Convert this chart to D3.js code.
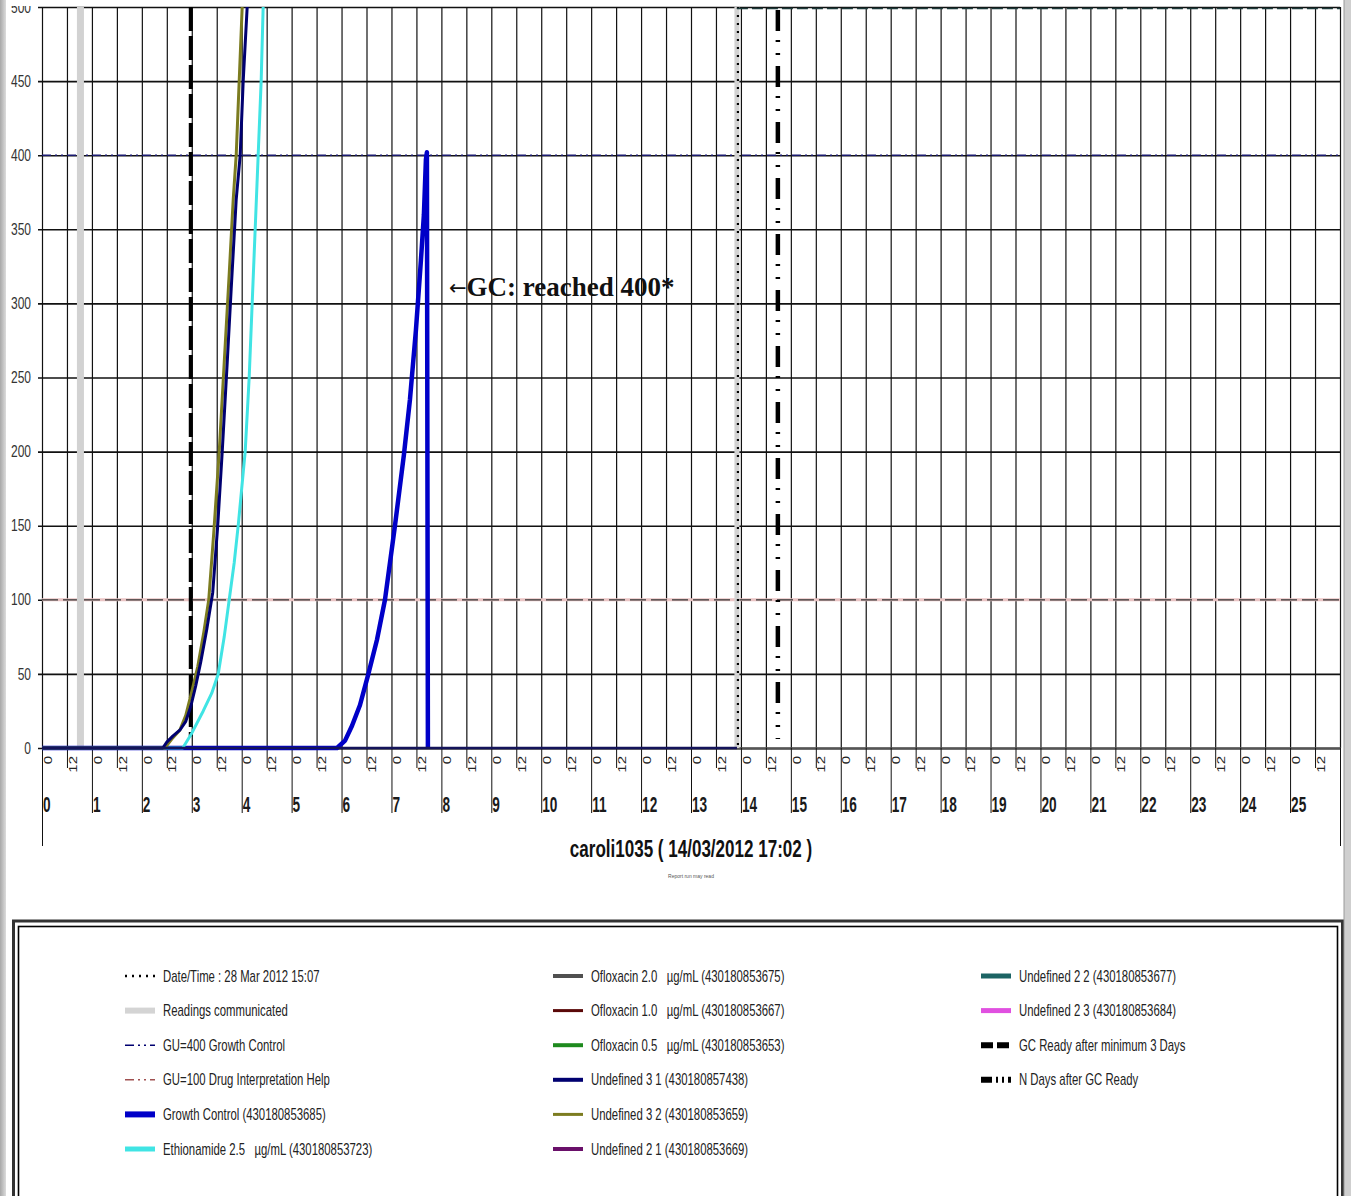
<!DOCTYPE html>
<html>
<head>
<meta charset="utf-8">
<script src="https://cdn.jsdelivr.net/npm/d3@7"></script>
<style>
  body { margin: 0; background: #fff; }
  svg { display: block; }
</style>
</head>
<body>
<svg id="chart" width="1351" height="1196"></svg>
<script>
// ---- data (days since incubation, growth units) ----
const yTicks = [0, 50, 100, 150, 200, 250, 300, 350, 400, 450, 500];
const dayLabels = ["0","1","2","3","4","5","6","7","8","9","10","11","12","13","14","15","16","17","18","19","20","21","22","23","24","25"];
const hourLabels = ["0", "12"];

const gcDays = [0, 5.91, 6.07, 6.21, 6.37, 6.53, 6.71, 6.87, 7.07, 7.25, 7.37, 7.49, 7.59, 7.65, 7.69, 7.71, 7.73];
const gcValues = [0, 0, 5, 15, 29, 49, 73, 100, 150, 198, 235, 282, 329, 360, 397, 402, 0];

const ethDays = [0, 2.82, 3.00, 3.23, 3.40, 3.53, 3.65, 3.75, 3.85, 3.93, 4.00, 4.07, 4.15, 4.21, 4.27, 4.33, 4.39, 4.43];
const ethValues = [0, 0, 10, 25, 37, 50, 75, 100, 125, 150, 175, 200, 250, 300, 350, 400, 450, 500];

const u31Days = [0, 2.42, 2.50, 2.62, 2.76, 2.88, 2.98, 3.08, 3.18, 3.30, 3.42, 3.52, 3.61, 3.71, 3.79, 3.89, 3.97, 4.03, 4.11];
const u31Values = [0, 0, 4, 8, 12, 18, 28, 42, 58, 80, 105, 150, 200, 260, 310, 370, 400, 450, 500];

const u32Days = [0, 2.46, 2.60, 2.76, 2.88, 3.00, 3.12, 3.24, 3.34, 3.44, 3.55, 3.65, 3.75, 3.83, 3.89, 3.95, 4.01];
const u32Values = [0, 0, 6, 12, 22, 38, 55, 78, 100, 145, 200, 260, 320, 370, 400, 450, 500];

const flatDays = [0, 13.92];
const flatValues = [0, 0];

const readingsDays = [0.77, 13.92];
const reportDay = 13.92;
const gcReadyDay = 2.98;
const nDaysAfterDay = 14.74;
const gu400 = 400;
const gu100 = 100;
const xMax = 26;

const title = "caroli1035 ( 14/03/2012 17:02 )";
const noteArrow = "\u2190";
const note = "GC: reached 400*";
const smallNote = "Report run may read";

const legendCols = [
  ["Date/Time : 28 Mar 2012 15:07", "Readings communicated", "GU=400 Growth Control",
   "GU=100 Drug Interpretation Help", "Growth Control (430180853685)", "Ethionamide 2.5   \u00b5g/mL (430180853723)"],
  ["Ofloxacin 2.0   \u00b5g/mL (430180853675)", "Ofloxacin 1.0   \u00b5g/mL (430180853667)", "Ofloxacin 0.5   \u00b5g/mL (430180853653)",
   "Undefined 3 1 (430180857438)", "Undefined 3 2 (430180853659)", "Undefined 2 1 (430180853669)"],
  ["Undefined 2 2 (430180853677)", "Undefined 2 3 (430180853684)", "GC Ready after minimum 3 Days", "N Days after GC Ready"]
];

// ---- styles ----
const SANS = '"Liberation Sans", Arial, sans-serif';
const SERIF = '"Liberation Serif", "Times New Roman", serif';
const swatch = [
  [{ c: "#000", w: 2.5, d: "2,5" }, { c: "#d4d4d4", w: 6 }, { c: "#000070", w: 1.5, d: "9,4,2,4,2,4" },
   { c: "#a05050", w: 1.5, d: "9,4,2,4,2,4" }, { c: "#0000c8", w: 6 }, { c: "#40e4e4", w: 5 }],
  [{ c: "#505050", w: 4 }, { c: "#5a0808", w: 3 }, { c: "#1e8a1e", w: 4 },
   { c: "#000070", w: 4 }, { c: "#7c7c20", w: 3 }, { c: "#6a106a", w: 4 }],
  [{ c: "#1c6464", w: 5 }, { c: "#e050e0", w: 5 }, { c: "#000", w: 6, d: "12,4" }, { c: "#000", w: 6, d: "11,4,2,4,2,4" }]
];

const margin = { left: 42, right: 11, top: 7, bottom: 748 };
const svg = d3.select("#chart");

const x = d3.scaleLinear().domain([0, xMax]).range([margin.left, 1351 - margin.right]);
const y = d3.scaleLinear().domain([0, 500]).range([margin.bottom, margin.top]);

const line = d3.line().x(d => x(d[0])).y(d => y(d[1]));
const zip = (a, b) => a.map((v, i) => [v, b[i]]);

const addAxes = () => {
  const halfDays = d3.range(0, xMax + 0.01, 0.5);

  // vertical grid
  svg.append("g")
    .attr("transform", `translate(0,${margin.bottom})`)
    .call(d3.axisBottom(x).tickValues(halfDays).tickSize(-(margin.bottom - margin.top)).tickFormat(""))
    .call(g => g.select(".domain").remove())
    .selectAll("line").attr("stroke", "#111").attr("stroke-width", 1.2);

  // horizontal grid + labels
  svg.append("g")
    .attr("transform", `translate(${margin.left},0)`)
    .call(d3.axisLeft(y).tickValues(yTicks).tickSize(-(x(xMax) - margin.left)).tickPadding(11))
    .call(g => g.select(".domain").remove())
    .call(g => g.selectAll("line").attr("x1", -4).attr("stroke", "#111").attr("stroke-width", 1.6))
    .call(g => g.selectAll("text")
      .attr("x", null)
      .attr("transform", "translate(-11,0) scale(0.75,1)")
      .attr("font-size", 16).attr("fill", "#333").attr("font-family", SANS));

  // lower axis: ticks and small hour labels
  const xAxis = svg.append("g")
    .attr("transform", `translate(0,${margin.bottom})`)
    .call(d3.axisBottom(x).tickValues(halfDays).tickSize(0).tickFormat(""));
  xAxis.select(".domain").attr("stroke", "#555").attr("stroke-width", 2.5);
  xAxis.selectAll(".tick line")
    .attr("stroke", "#111")
    .attr("y2", d => (d === 0 || d === xMax) ? 98 : (d % 1 === 0 ? 65 : 20));

  svg.append("g")
    .selectAll("text")
    .data(halfDays.slice(0, -1))
    .enter()
    .append("text")
    .attr("transform", d => `translate(${x(d) + 6},${margin.bottom + 8}) scale(0.7,1) rotate(-90)`)
    .attr("text-anchor", "end")
    .attr("dy", "0.35em")
    .attr("font-family", SANS)
    .attr("font-size", 15)
    .attr("fill", "#222")
    .text(d => hourLabels[d % 1 === 0 ? 0 : 1]);

  svg.append("g")
    .selectAll("text")
    .data(dayLabels)
    .enter()
    .append("text")
    .attr("transform", (d, i) => `translate(${x(i) + 1},${margin.bottom + 64}) scale(0.62,1)`)
    .attr("font-family", SANS)
    .attr("font-weight", "bold")
    .attr("font-size", 22)
    .attr("fill", "#1a1a1a")
    .text(d => d);
};

const addMarkers = () => {
  // guide lines
  svg.append("line")
    .attr("x1", x(0)).attr("x2", x(xMax)).attr("y1", y(gu100)).attr("y2", y(gu100))
    .attr("stroke", "#eac4c4").attr("stroke-width", 3);
  svg.append("line")
    .attr("x1", x(0)).attr("x2", x(xMax)).attr("y1", y(gu100)).attr("y2", y(gu100))
    .attr("stroke", "#333").attr("stroke-width", 1.3).attr("stroke-dasharray", "16,5");
  svg.append("line")
    .attr("x1", x(0)).attr("x2", x(xMax)).attr("y1", y(gu400)).attr("y2", y(gu400))
    .attr("stroke", "#1a1a70").attr("stroke-width", 1.6).attr("stroke-dasharray", "9,4,2,4,2,4");

  // readings communicated
  svg.append("g")
    .selectAll("line")
    .data(readingsDays)
    .enter()
    .append("line")
    .attr("x1", d => x(d)).attr("x2", d => x(d))
    .attr("y1", y(500)).attr("y2", y(0))
    .attr("stroke", "#d2d2d2").attr("stroke-width", d => d < 1 ? 7 : 5);

  // report date
  svg.append("line")
    .attr("x1", x(reportDay) + 1).attr("x2", x(reportDay) + 1).attr("y1", y(500)).attr("y2", y(0))
    .attr("stroke", "#000").attr("stroke-width", 2.2).attr("stroke-dasharray", "2,6");

  // top dashed edge right of the report date
  svg.append("line")
    .attr("x1", x(reportDay)).attr("x2", x(xMax)).attr("y1", y(499)).attr("y2", y(499))
    .attr("stroke", "#1c3a3a").attr("stroke-width", 1.6).attr("stroke-dasharray", "11,4");

  // GC ready and N days after GC ready
  svg.append("line")
    .attr("x1", x(gcReadyDay)).attr("x2", x(gcReadyDay)).attr("y1", y(500)).attr("y2", y(8))
    .attr("stroke", "#000").attr("stroke-width", 4).attr("stroke-dasharray", "24,5");
  svg.append("line")
    .attr("x1", x(nDaysAfterDay)).attr("x2", x(nDaysAfterDay)).attr("y1", y(498)).attr("y2", y(6))
    .attr("stroke", "#000").attr("stroke-width", 4.5).attr("stroke-dasharray", "21,9,2,11,2,11");
};

const addLines = () => {
  const series = [
    { data: zip(gcDays, gcValues), c: "#0000c8", w: 4.5 },
    { data: zip(flatDays, flatValues), c: "#505050", w: 2 },
    { data: zip(flatDays, flatValues), c: "#5a0808", w: 2 },
    { data: zip(flatDays, flatValues), c: "#1e8a1e", w: 2 },
    { data: zip(flatDays, flatValues), c: "#1c6464", w: 2 },
    { data: zip(flatDays, flatValues), c: "#e050e0", w: 2 },
    { data: zip(flatDays, flatValues), c: "#6a106a", w: 2 },
    { data: zip(ethDays, ethValues), c: "#40e4e4", w: 3 },
    { data: zip(u32Days, u32Values), c: "#7c7c20", w: 3 },
    { data: zip(u31Days, u31Values), c: "#000070", w: 3 },
    { data: zip(flatDays, flatValues), c: "#14145a", w: 2.5 }
  ];
  svg.append("clipPath").attr("id", "plot")
    .append("rect").attr("x", 0).attr("y", margin.top).attr("width", 1351).attr("height", 760);

  svg.append("g")
    .attr("clip-path", "url(#plot)")
    .selectAll("path")
    .data(series)
    .enter()
    .append("path")
    .attr("d", d => line(d.data))
    .attr("fill", "none")
    .attr("stroke", d => d.c)
    .attr("stroke-width", d => d.w)
    .attr("stroke-linejoin", "round");
};

const addText = () => {
  const t = svg.append("text")
    .attr("x", 449)
    .attr("y", 296)
    .attr("font-family", SERIF)
    .attr("font-weight", "bold")
    .attr("font-size", 27)
    .attr("fill", "#111");
  t.append("tspan")
    .attr("font-family", '"DejaVu Sans", sans-serif')
    .attr("font-weight", "normal")
    .attr("font-size", 21)
    .attr("dy", -1)
    .text(noteArrow);
  t.append("tspan")
    .attr("dy", 1)
    .text(note);

  svg.append("text")
    .text(title)
    .attr("text-anchor", "middle")
    .attr("transform", "translate(691,857) scale(0.71,1)")
    .attr("font-family", SANS)
    .attr("font-weight", "bold")
    .attr("font-size", 24)
    .attr("fill", "#111");

  svg.append("text")
    .text(smallNote)
    .attr("text-anchor", "middle")
    .attr("x", 691)
    .attr("y", 878)
    .attr("font-family", SANS)
    .attr("font-size", 5)
    .attr("fill", "#555");
};

const addLegend = () => {
  svg.append("rect")
    .attr("x", 13.5).attr("y", 921).attr("width", 1329).attr("height", 300)
    .attr("fill", "#fff").attr("stroke", "#333").attr("stroke-width", 3);
  svg.append("rect")
    .attr("x", 18.5).attr("y", 926.5).attr("width", 1319).attr("height", 300)
    .attr("fill", "none").attr("stroke", "#000").attr("stroke-width", 1.6);

  const colX = [125, 553, 981];
  legendCols.forEach((labels, ci) => {
    const g = svg.append("g").attr("transform", `translate(${colX[ci]},976)`);
    const item = g.selectAll("g")
      .data(labels)
      .enter()
      .append("g")
      .attr("transform", (d, i) => `translate(0,${i * 34.6})`);
    item.append("line")
      .attr("x1", 0).attr("x2", 30)
      .attr("stroke", (d, i) => swatch[ci][i].c)
      .attr("stroke-width", (d, i) => swatch[ci][i].w)
      .attr("stroke-dasharray", (d, i) => swatch[ci][i].d || null);
    item.append("text")
      .attr("transform", "translate(38,0) scale(0.71,1)")
      .attr("dy", "0.35em")
      .attr("font-family", SANS)
      .attr("font-size", 16)
      .attr("fill", "#222")
      .style("white-space", "pre")
      .text(d => d);
  });
};

const addFrame = () => {
  svg.append("rect").attr("x", 0).attr("y", 0).attr("width", 1351).attr("height", 6).attr("fill", "#fff");
  const grad = svg.append("defs").append("linearGradient").attr("id", "edge");
  grad.append("stop").attr("offset", "0").attr("stop-color", "#a8a8a8");
  grad.append("stop").attr("offset", "1").attr("stop-color", "#dcdcdc");
  svg.append("rect").attr("x", 0).attr("y", 0).attr("width", 6).attr("height", 1196).attr("fill", "url(#edge)");
  svg.append("rect").attr("x", 1344).attr("y", 0).attr("width", 7).attr("height", 1196).attr("fill", "#cfcfcf");
  svg.append("line").attr("x1", 1344).attr("x2", 1344).attr("y1", 0).attr("y2", 1196)
    .attr("stroke", "#9a9a9a").attr("stroke-width", 1);
};

addAxes();
addMarkers();
addLines();
addText();
addLegend();
addFrame();
</script>
</body>
</html>
